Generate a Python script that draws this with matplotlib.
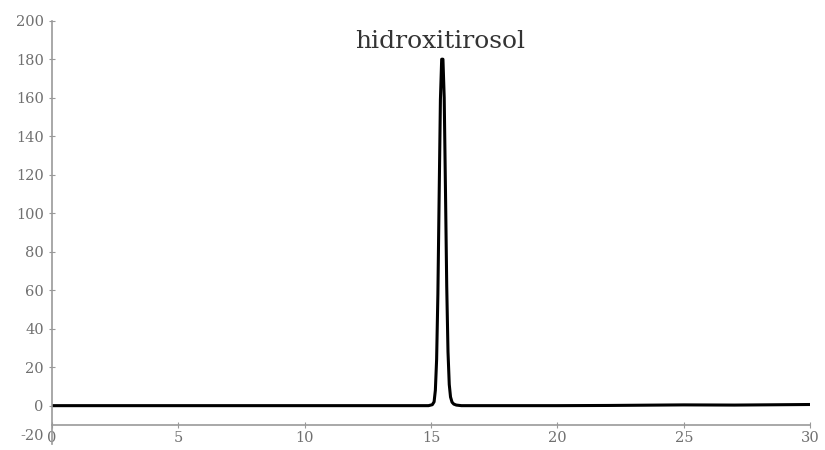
import matplotlib
matplotlib.use("Agg")
import matplotlib.pyplot as plt
from matplotlib.transforms import ScaledTranslation

plt.rcParams["axes.unicode_minus"] = False

# Chromatogram points (time in min, signal)
time = [0, 5, 10, 14.9, 15.05, 15.12, 15.17, 15.22, 15.27, 15.32, 15.37, 15.42, 15.47,
        15.52, 15.57, 15.62, 15.67, 15.72, 15.77, 15.83, 15.9, 16.0, 16.2, 18, 20, 22, 25, 27, 30]
signal = [0, 0, 0, 0, 0.5, 2, 8, 24, 58, 109, 159, 180, 180,
          160, 112, 62, 28, 11, 4.5, 1.8, 0.8, 0.3, 0, 0, 0, 0.1, 0.4, 0.3, 0.6]
title_text = "hidroxitirosol"
xticks = [0, 5, 10, 15, 20, 25, 30]
yticks = [-20, 0, 20, 40, 60, 80, 100, 120, 140, 160, 180, 200]

fig = plt.figure(figsize=(8.25, 4.5), dpi=100)
ax = fig.add_axes([0.063, 0.013, 0.919, 0.941])
ax.plot(time, signal, color="black", lw=2.2, solid_joinstyle="round")
ax.set_xlim(0, 30)
ax.set_ylim(-20, 200)
ax.set_xticks(xticks)
ax.set_yticks(yticks)
for s in ["top", "right"]:
    ax.spines[s].set_visible(False)
ax.spines["bottom"].set_position(("data", -10))
for s in ["left", "bottom"]:
    ax.spines[s].set_color("#999999")
    ax.spines[s].set_linewidth(1.2)
ax.tick_params(axis="both", colors="#999999", labelcolor="#707070", direction="inout",
               length=5, labelsize=10.5)
ax.tick_params(axis="x", pad=2)
for lab in ax.get_xticklabels() + ax.get_yticklabels():
    lab.set_family("DejaVu Serif")
fig.canvas.draw()
ax.yaxis.get_major_ticks()[0].tick1line.set_visible(False)
ylabs = ax.get_yticklabels()
ylabs[0].set_transform(ylabs[0].get_transform() + ScaledTranslation(0, 7 / 72, fig.dpi_scale_trans))
ax.text(15.35, 189, title_text, ha="center", va="center", fontsize=18,
        family="DejaVu Serif", color="#333333")
fig.savefig("out.png", dpi=100)
